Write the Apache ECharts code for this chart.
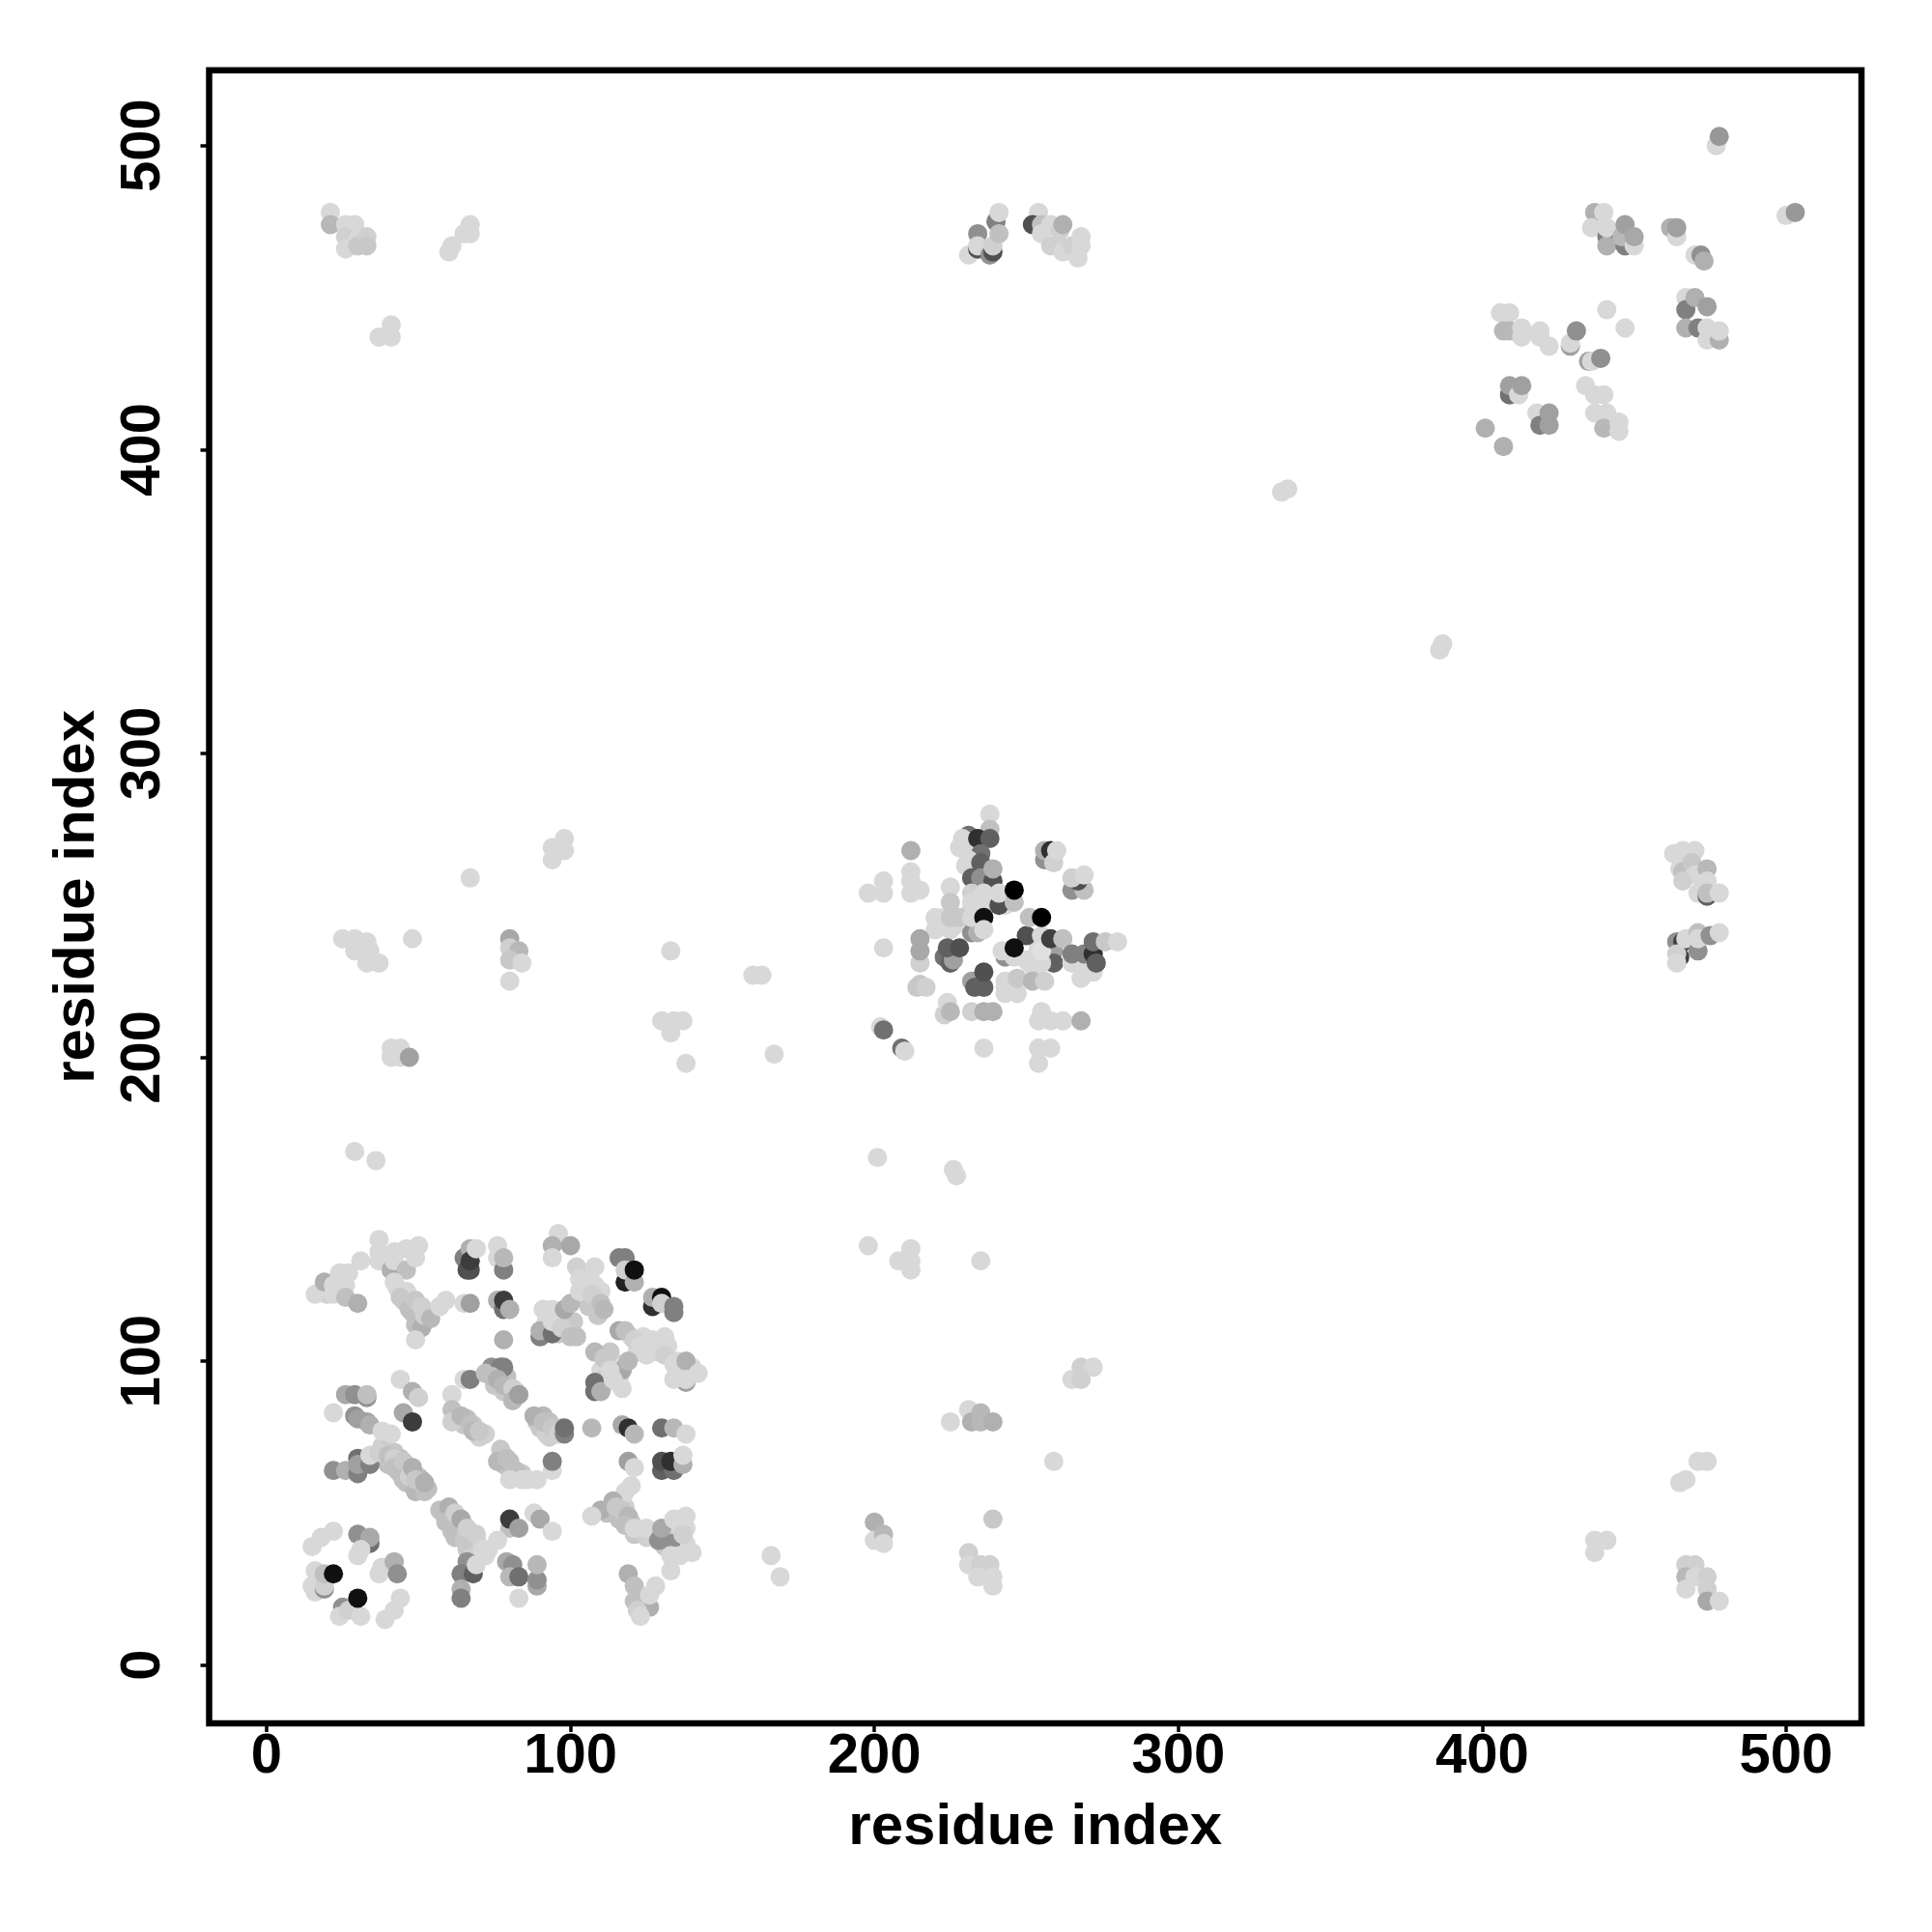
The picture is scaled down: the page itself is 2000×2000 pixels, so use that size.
<!DOCTYPE html>
<html><head><meta charset="utf-8">
<style>html,body{margin:0;background:#fff}#c{width:2000px;height:2000px}</style>
<script src="https://cdn.jsdelivr.net/npm/echarts@6/dist/echarts.min.js"></script>
</head><body><div id="c"></div>
<script>
const tickValues = [0,100,200,300,400,500];
const axisTitle = "residue index";
// each entry: [residue x, residue y, grey level]
const blockBandFill = [
[38,72,208],[40,71,200],[42,70,200],[44,68,192],[46,66,200],[48,64,192],[50,62,200],[52,59,192],[40,66,192],[43,64,200],[46,60,192],[48,59,184],[50,58,192],[44,63,192],[41,67,200],[47,63,192],[51,61,184],[53,58,192],
[58,50,192],[60,48,192],[62,46,200],[64,44,192],[66,42,200],[68,40,208],[70,38,208],[61,50,184],[63,47,184],[65,46,200],[67,43,200],[69,41,208],[72,36,216],[59,50,192],[61,44,192],[63,43,192],[66,38,200],[68,37,208],
[78,69,200],[80,67,192],[82,62,200],[84,63,200],[78,66,192],[80,64,192],[86,61,216],
[63,81,192],[65,79,200],[66,81,192],[68,79,200],[62,82,192],[70,75,208],[72,76,208],
[75,97,192],[77,95,184],[79,92,192],[80,90,192],[82,90,184],[79,95,192],[75,92,200],[78,90,200],
[89,80,192],[91,82,184],[93,80,192],[95,77,200],[90,78,200],[92,76,208],[93,75,208],[97,78,200],
[43,124,216],[45,120,208],[47,121,200],[48,116,192],[50,116,192],[52,113,192],[49,112,192],[46,119,200],[53,116,200],
[112,50,192],[114,50,192],[116,48,192],[118,52,208],[116,54,216],[120,47,200],[123,44,208],[127,43,208],[121,43,200],[125,42,208],[130,42,192],[134,44,208],[136,46,216],[138,40,216],[134,40,216],[138,45,216],[131,39,200],
[104,129,216],[106,128,216],[105,125,216],[108,125,216],[104,121,216],[108,119,208],[106,118,200],[110,123,216],
[120,108,216],[122,103,216],[124,108,216],[124,106,216],[128,105,216],[126,104,216],[129,103,216],[132,105,216],[135,100,216],[137,97,216],[140,98,216],[135,96,216],
[110,97,216],[112,100,200],[114,100,216],[112,93,216],[115,97,216],[111,94,200],[116,94,216],[113,103,200],
[92,113,216],[96,115,208],[92,110,208],[96,109,200],[99,110,192],[98,113,208],[101,113,200],
[20,123,216],[24,123,216],[20,122,208],
[222,244,216],[223,246,216],[223,243,216],[226,243,216],[243,225,216],[245,222,216],[250,232,216],[253,233,216],[253,228,216],[254,236,216],
[230,268,216],[230,263,216],[232,249,216],[236,250,216],[243,250,216],[268,226,216]
];
const blockLowerUpper = [
[16,122,216],[19,126,176],[22,122,216],[22,125,216],[24,129,216],[27,129,216],[26,125,216],[26,121,192],[30,119,176],[31,133,216],
[37,140,216],[37,136,216],[37,133,216],[41,130,176],[44,130,168],[42,133,216],[46,130,192],[42,136,216],[46,137,216],[50,138,216],[49,134,216],
[42,126,216],[46,123,216],[44,122,216],[44,121,200],[47,117,192],[49,120,200],[51,111,176],[49,107,216],[51,118,208],[52,115,208],[54,114,184],
[59,120,216],[57,118,216],[65,119,216],[67,119,160],
[65,134,128],[67,137,176],[67,130,80],[66,130,80],[67,133,60],[69,137,216],
[44,94,216],[48,90,176],[50,88,208],[45,83,168],[48,80,60],
[26,89,168],[33,88,144],[29,89,144],[33,89,192],
[22,83,216],[29,82,144],[30,81,160],[33,80,160],[34,79,176],[38,77,216],[41,76,216],
[61,89,216],[65,94,216],[67,94,128],[61,84,192],[61,80,208],[64,82,184],[67,79,192],[68,77,184],[70,77,200],
[74,98,144],[72,96,192],
[76,138,216],[76,134,216],[78,130,128],[78,134,184],
[76,120,176],[78,117,112],[78,120,60],[80,117,176],[78,107,176],
[77,98,128],[78,98,128],[74,95,192],[76,94,176],[78,92,184],[81,91,208],[81,87,184],[83,89,160],
[88,82,176],[91,80,192],[94,78,200],[96,76,208],[98,76,128],[98,78,112],[107,78,184],
[117,79,168],[119,78,48],[121,76,184],[130,78,112],[134,78,184],[138,76,216],
[96,142,216],[94,138,176],[94,134,216],[100,138,168],
[91,117,216],[94,117,216],[90,108,128],[90,110,176],[94,109,112],[94,113,216],[97,111,208],[100,108,192],[102,108,192],[98,117,168],[100,119,184],
[102,131,208],[103,127,216],[108,131,216],[107,126,216],[103,123,216],[107,122,208],[109,115,200],[110,119,192],[111,117,184],
[116,134,128],[118,134,128],[118,126,32],[118,130,208],[121,126,176],[121,130,16],
[127,118,48],[127,121,176],[130,121,16],[130,119,208],[134,116,128],[134,118,128],
[116,110,168],[118,110,192],[121,107,208],[123,105,216],[127,107,216],[131,108,216],[125,102,216],[131,102,208],[134,99,216],[138,100,176],[138,93,160],[134,94,216],[138,94,216],[142,96,216],
[108,90,112],[108,93,112],[110,90,176],[108,103,184],[111,101,200],[117,97,168],[119,100,184],[113,97,216],[114,94,216],[117,91,216]
];
const blockLowerMiddle = [
[22,64,144],[26,64,176],[30,63,128],[30,68,112],[30,66,160],[34,66,128],[34,69,216],
[37,70,208],[40,69,192],[42,68,208],[42,65,192],[45,67,200],[45,61,192],[47,62,208],[48,65,176],[49,57,184],[49,61,200],[52,57,192],[52,60,176],
[57,51,192],[60,52,176],[59,47,192],[62,50,208],[62,42,192],[64,48,168],[65,41,200],[66,45,208],[69,43,208],[71,38,216],
[66,34,144],[64,30,128],[68,30,96],[69,33,216],[64,25,176],[64,22,128],
[77,71,200],[76,67,184],[79,68,192],[82,64,192],[80,61,216],[84,61,216],[89,61,216],
[94,64,216],[94,67,128],
[119,67,160],[121,65,216],[130,64,96],[130,67,80],[134,64,112],[133,67,48],[137,66,176],[137,69,216]
];
const blockLowerBottom = [
[22,44,216],[15,39,216],[18,42,216],
[34,40,112],[30,43,144],[34,42,168],[31,38,216],[30,36,216],
[38,32,144],[38,32,216],[37,30,216],[42,34,176],[43,30,144],
[44,22,216],[42,18,216],[39,15,216],
[16,31,216],[15,26,216],[16,24,216],[19,25,144],[19,26,208],[19,30,192],[22,30,16],
[25,19,144],[24,16,216],[27,18,208],[31,16,216],[30,22,16],
[120,59,216],[118,57,216],[114,54,176],[110,51,176],[107,49,216],[115,52,200],[117,51,200],[119,49,184],[118,46,192],[121,45,216],[125,45,216],
[129,41,144],[133,40,144],[130,45,168],[134,48,216],[137,43,208],[138,49,216],[133,36,216],[136,36,216],[140,37,216],
[133,31,216],[119,30,176],[121,26,192],[121,21,192],[126,19,176],[128,26,216],[126,23,216],[122,18,208],[123,16,216],
[80,45,192],[80,48,60],[83,45,160],[88,50,216],[90,48,168],[94,44,216],
[73,38,216],[76,41,216],
[79,34,168],[81,33,144],[80,29,184],[83,29,112],[83,22,216],[89,26,168],[89,28,144],[89,33,184]
];
const blockCentre = [
[238,280,216],[238,275,192],[231,273,112],[229,272,216],[228,269,216],[234,272,48],[238,272,96],[235,267,112],[231,265,216],[235,264,96],
[212,268,176],[212,261,216],[212,258,216],[212,254,216],[215,255,216],[203,258,216],[203,254,216],[198,254,216],
[232,259,96],[235,259,144],[239,258,80],[239,262,176],[241,250,80],[232,254,208],[232,251,216],[236,254,216],[241,254,216],[246,251,192],[246,255,0],
[225,256,216],[225,251,200],
[256,265,144],[256,268,176],[258,268,48],[259,264,208],[260,268,216],
[265,255,144],[269,255,192],[267,258,80],[265,259,208],[269,260,216],
[220,246,216],[220,242,216],[225,242,216],[225,246,200],[228,246,200],
[232,241,144],[234,241,176],[232,246,216],[236,246,16],[236,242,216],
[250,240,80],[251,246,192],[255,240,216],[255,246,0],
[259,235,160],[259,231,96],[251,231,216],[255,231,216],[255,235,224],[258,239,64],[262,239,192],
[243,233,144],[242,235,216],[246,233,216],[246,236,16],
[265,231,216],[269,231,216],[269,228,216],[272,228,216],[265,234,128],[269,234,128],[272,234,48],[272,238,112],[273,231,96],[276,238,200],[280,238,216],
[203,236,216],[215,231,208],[215,235,168],[215,239,168],
[223,233,112],[225,231,96],[226,232,160],[224,236,96],[228,236,80],
[214,223,200],[215,224,200],[217,223,208],
[232,225,160],[233,223,96],[236,223,96],[236,228,80],
[243,221,216],[243,223,216],[247,221,216],[247,226,200],[252,225,184],[256,225,208],
[223,214,208],[224,218,216],[225,215,184],[232,215,208],[236,215,176],[239,215,176],
[255,215,216],[254,212,216],[258,212,216],[262,212,216],[268,212,176],
[202,210,216],[203,209,112],[209,203,112],[210,202,216],
[236,203,216],[254,203,216],[258,203,216],[254,198,216]
];
const blockUpperRight = [
[477,500,216],[478,503,152],[500,477,216],[503,478,152],
[437,478,176],[436,473,216],[441,470,128],[441,467,176],[441,473,216],[440,478,216],[447,467,128],[446,470,184],[450,467,216],[447,474,160],[450,470,168],
[462,473,176],[464,470,216],[464,473,160],
[470,464,216],[472,464,144],[473,462,176],
[467,450,216],[467,446,128],[470,450,176],[474,447,160],[467,440,176],[471,440,128],[474,436,216],[478,436,176],[474,440,216],[478,439,216],
[406,445,216],[409,445,216],[407,439,184],[409,439,184],[413,440,216],[413,437,216],[419,439,216],[419,437,216],[422,434,216],
[441,446,216],[447,440,216],
[429,434,160],[429,435,216],[431,439,144],
[435,429,160],[436,429,216],[439,430,144],
[434,421,216],[437,418,216],[440,418,216],[437,412,216],[441,412,216],[440,407,184],[445,409,216],[445,406,216],
[409,418,112],[409,421,160],[412,418,216],[413,421,160],
[418,412,216],[419,408,128],[422,408,160],[422,412,160],
[401,407,176],[407,401,176],[334,386,216],[336,387,216],[386,334,216],[387,336,216]
];
const blockUpperLeft = [
[21,478,216],[21,474,184],[26,474,216],[29,474,216],[26,470,208],[26,466,216],[30,469,216],[30,467,200],[33,470,208],[33,467,200],
[67,474,216],[65,471,216],[67,471,216],[61,467,216],[60,465,216],
[41,441,216],[37,437,216],[41,437,216],
[231,464,216],[234,466,80],[234,471,144],[234,467,216],[238,464,144],[239,465,80],[239,467,208],[240,475,128],[241,471,192],[241,478,216],
[254,478,216],[252,474,80],[255,474,192],[255,471,216],[258,474,216],[258,467,208],[261,467,208],[262,465,216],[261,472,208],[262,474,176],[265,467,208],[268,470,216],[268,467,216],[267,463,216]
];
const blockRightMiddle = [
[463,267,216],[466,268,216],[470,268,216],[465,262,216],[466,261,192],[469,264,200],[470,260,216],[474,262,184],[466,258,208],[474,258,216],[471,254,216],[474,253,96],[474,254,192],[478,254,216],
[464,238,144],[466,238,64],[465,233,64],[464,234,208],[464,231,216],[467,239,216],[471,241,192],[471,235,144],[471,239,216],[475,240,144],[478,241,216]
];
const blockLeftMiddle = [
[25,239,216],[29,239,216],[29,235,216],[33,238,216],[33,231,216],[37,231,216],[34,235,216],[48,239,216],
[41,203,216],[41,200,216],[44,203,216],[44,200,216],[47,200,160],
[29,169,216],[36,166,216],[67,259,216],[94,265,216],[94,269,216],[98,268,216],[98,272,216],
[80,239,168],[80,236,208],[83,235,184],[80,232,200],[84,231,216],[80,225,216],
[133,235,216],[130,212,216],[134,212,216],[137,212,216],[133,208,216],[138,198,216],
[160,227,216],[163,227,216],[167,201,216],
[201,167,216],[226,163,216],[227,161,216],
[198,138,216],[208,133,216],[212,137,216],[212,133,216],[212,130,216],[235,133,216]
];
const blockLowerRight = [
[225,80,216],[231,84,216],[232,80,176],[235,83,184],[235,80,184],[239,80,176],
[265,94,216],[268,98,208],[272,98,216],[268,94,208],[259,67,216],
[239,48,200],[231,37,208],[231,33,216],[235,33,208],[238,33,208],[234,29,216],[239,29,216],[239,26,216],
[200,47,176],[200,41,216],[203,43,184],[203,40,216],[166,36,216],[169,29,216],
[471,67,216],[474,67,216],[467,61,216],[465,60,216],
[437,41,216],[441,41,216],[437,37,216],
[467,33,208],[470,33,208],[467,29,184],[467,25,216],[470,29,216],[474,29,208],[474,25,208],[474,21,168],[478,21,216]
];

const contacts = [].concat(blockBandFill, blockLowerUpper, blockLowerMiddle, blockLowerBottom, blockCentre,
  blockUpperRight, blockUpperLeft, blockRightMiddle, blockLeftMiddle, blockLowerRight);

const font = '"Liberation Sans", Arial, sans-serif';
const axisBase = {
  type:'value', name:axisTitle, nameLocation:'middle', nameMoveOverlap:false, splitLine:{show:false},
  nameTextStyle:{fontFamily:font,fontWeight:'bold',fontSize:60,color:'#000'},
  axisLine:{show:false,onZero:false},
  axisTick:{show:true,length:9,lineStyle:{color:'#000',width:3.5},customValues:tickValues},
};
const chart = echarts.init(document.getElementById('c'),null,{renderer:'canvas'});
chart.setOption({
  animation:false, backgroundColor:'#fff',
  grid:{left:216.5,right:73,top:72.7,bottom:216,show:true,borderColor:'#000',borderWidth:6.5,backgroundColor:'transparent'},
  xAxis:Object.assign({},axisBase,{min:-18.9,max:524.8,nameGap:78,
    axisLabel:{fontFamily:font,fontWeight:'bold',fontSize:58,color:'#000',margin:6,customValues:tickValues,showMinLabel:true,showMaxLabel:true}}),
  yAxis:Object.assign({},axisBase,{min:-19.2,max:524.8,nameGap:106,
    axisLabel:{fontFamily:font,fontWeight:'bold',fontSize:58,color:'#000',margin:68,rotate:90,customValues:tickValues,showMinLabel:true,showMaxLabel:true,align:'center',verticalAlign:'middle'}}),
  series:[{type:'scatter',data:contacts,symbol:'circle',symbolSize:20,clip:false,large:false,
    encode:{x:0,y:1},
    itemStyle:{opacity:1,color:p=>{const g=p.data[2];return 'rgb('+g+','+g+','+g+')';}}}]
});
</script></body></html>
